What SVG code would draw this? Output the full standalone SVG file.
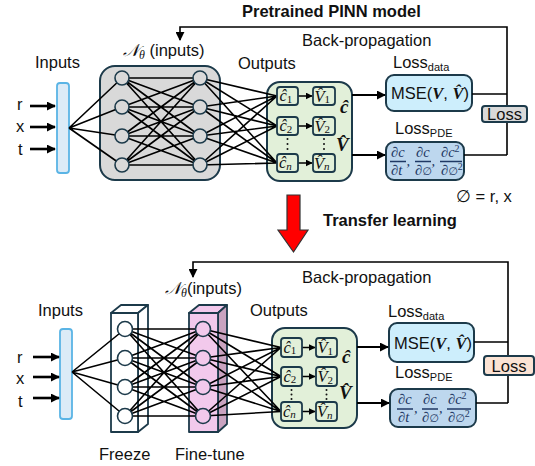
<svg xmlns="http://www.w3.org/2000/svg" width="535" height="466" viewBox="0 0 535 466">
<defs>
<style>
.t{font-family:"Liberation Sans",Arial,sans-serif;font-size:16.5px;fill:#111}
.b{font-weight:bold}
.m{font-family:"Liberation Serif","DejaVu Serif",serif;font-style:italic;fill:#111}
.fr{font-family:"Liberation Serif","DejaVu Serif",serif;font-style:italic;font-size:14.5px;fill:#1f3864}
.es{font-family:"DejaVu Sans",sans-serif;font-style:normal;font-size:11px}
.ln{stroke:#000;stroke-width:1.6;fill:none}
.dk{stroke:#1c3a4a;stroke-width:2}
.nd{stroke:#1c3a4a;stroke-width:1.6}
.ib{fill:#e2f0d9;stroke:#1c3a4a;stroke-width:1.8}
</style>
<marker id="ah" viewBox="0 0 10 10" refX="9" refY="5" markerWidth="9" markerHeight="9" markerUnits="userSpaceOnUse" orient="auto"><path d="M0,0 L10,5 L0,10 z" fill="#000"/></marker>
<marker id="ahs" viewBox="0 0 10 10" refX="9" refY="5" markerWidth="7" markerHeight="7" markerUnits="userSpaceOnUse" orient="auto"><path d="M0,0 L10,5 L0,10 z" fill="#000"/></marker>
</defs>
<rect width="535" height="466" fill="#fff"/>

<!-- ===== TOP ===== -->
<text class="t b" x="242" y="17">Pretrained PINN model</text>
<text class="t" x="302" y="46">Back-propagation</text>
<text class="t" x="35" y="68">Inputs</text>
<text class="t" x="123" y="56"><tspan class="m" font-size="17">𝒩</tspan><tspan class="m" font-size="12" dy="3">θ</tspan><tspan dy="-3"> (inputs)</tspan></text>
<text class="t" x="238" y="69">Outputs</text>
<text class="t" x="17" y="110">r</text>
<text class="t" x="16" y="132">x</text>
<text class="t" x="18" y="155">t</text>

<g id="top-input"><rect x="57" y="83" width="12" height="90" rx="3" fill="#dcebf7" stroke="#5ab4e5" stroke-width="1.8"/></g>
<g id="top-hidden"><rect x="100" y="66" width="120" height="114" rx="15" fill="#d9d9d9" class="dk"/></g>
<g id="top-outputs"><rect x="267" y="82" width="85" height="99" rx="13" fill="#e2f0d9" class="dk"/></g>
<g id="top-mse"><rect x="386" y="75" width="86" height="36" rx="8" fill="#cdeefc" class="dk"/>
<text class="t" x="391" y="99" font-size="16">MSE(<tspan class="m" font-weight="bold">V</tspan>, <tspan class="m" font-weight="bold">V̂</tspan>)</text></g>
<text class="t" x="393" y="68" font-size="15.5">Loss<tspan font-size="11" dy="3">data</tspan></text>
<g id="top-pde"><rect x="386" y="142" width="78" height="38" rx="8" fill="#bdd7ee" class="dk"/>
<text class="fr" x="391" y="157">∂c</text><text class="fr" x="416" y="157">∂c</text><text class="fr" x="441" y="157">∂c<tspan font-size="10" font-style="normal" dy="-5">2</tspan></text>
<path d="M390,161.5H406M415,161.5H431M440,161.5H462" stroke="#1f3864" stroke-width="1.3"/>
<text class="fr" x="391" y="175">∂t</text><text class="fr" x="415" y="175">∂<tspan class="es">∅</tspan></text><text class="fr" x="441" y="175">∂<tspan class="es">∅</tspan><tspan font-size="10" font-style="normal" dy="-5">2</tspan></text>
<text class="fr" x="406.5" y="166">,</text><text class="fr" x="431.5" y="166">,</text></g>
<text class="t" x="395" y="134" font-size="15.5">Loss<tspan font-size="11" dy="3">PDE</tspan></text>
<text class="t" x="456" y="202" font-size="15">∅ = r, x</text>

<!-- ===== TRANSFER ===== -->
<g id="transfer-arrow"><path d="M287,195H300V230H308L293.5,252L278,230H287Z" fill="#ff0000" stroke="#333" stroke-width="1.2"/></g>
<text class="t b" x="323" y="226">Transfer learning</text>

<!-- ===== BOTTOM ===== -->
<text class="t" x="302" y="283">Back-propagation</text>
<text class="t" x="38" y="316">Inputs</text>
<text class="t" x="165" y="294"><tspan class="m" font-size="17">𝒩</tspan><tspan class="m" font-size="12" dy="3">θ</tspan><tspan dy="-3">(inputs)</tspan></text>
<text class="t" x="250" y="316">Outputs</text>
<text class="t" x="17" y="363">r</text>
<text class="t" x="16" y="384">x</text>
<text class="t" x="18" y="407">t</text>
<text class="t" x="99" y="460">Freeze</text>
<text class="t" x="175" y="460">Fine-tune</text>

<g id="bot-input"><rect x="60" y="329" width="12" height="90" rx="3" fill="#dcebf7" stroke="#5ab4e5" stroke-width="1.8"/></g>
<g id="bot-freeze" stroke="#1c3a4a" stroke-width="1.8" stroke-linejoin="round">
<path d="M111,313L121,305H148L138,313Z" fill="#fff"/>
<path d="M138,313L148,305V424L138,432Z" fill="#fff"/>
<rect x="111" y="313" width="27" height="119" fill="#fff"/></g>
<g id="bot-finetune" stroke="#1c3a4a" stroke-width="1.8" stroke-linejoin="round">
<path d="M189,313L199,305H227L218,313Z" fill="#f2c9ec"/>
<path d="M218,313L227,305V424L218,432Z" fill="#c9a3c0"/>
<rect x="189" y="313" width="29" height="119" fill="#f2c9ec"/></g>
<g id="bot-outputs"><rect x="272" y="328" width="85" height="100" rx="13" fill="#e2f0d9" class="dk"/></g>
<g id="bot-mse"><rect x="389" y="323" width="85" height="39" rx="8" fill="#cdeefc" class="dk"/>
<text class="t" x="394" y="349" font-size="16">MSE(<tspan class="m" font-weight="bold">V</tspan>, <tspan class="m" font-weight="bold">V̂</tspan>)</text></g>
<text class="t" x="388" y="317" font-size="15.5">Loss<tspan font-size="11" dy="3">data</tspan></text>
<g id="bot-pde"><rect x="390" y="389" width="86" height="38" rx="8" fill="#bdd7ee" class="dk"/>
<text class="fr" x="398" y="404">∂c</text><text class="fr" x="423" y="404">∂c</text><text class="fr" x="448" y="404">∂c<tspan font-size="10" font-style="normal" dy="-5">2</tspan></text>
<path d="M397,409H413M422,409H438M447,409H471" stroke="#1f3864" stroke-width="1.3"/>
<text class="fr" x="398" y="422">∂t</text><text class="fr" x="422" y="422">∂<tspan class="es">∅</tspan></text><text class="fr" x="448" y="422">∂<tspan class="es">∅</tspan><tspan font-size="10" font-style="normal" dy="-5">2</tspan></text>
<text class="fr" x="414" y="413">,</text><text class="fr" x="439" y="413">,</text></g>
<text class="t" x="395" y="378" font-size="15.5">Loss<tspan font-size="11" dy="3">PDE</tspan></text>

<!-- ===== CONNECTORS ===== -->
<g id="connectors" class="ln">
<!-- top backprop -->
<path d="M472,94H507M464,155H507"/>
<path d="M507,155V27H180V40" marker-end="url(#ah)"/>
<path d="M30,106H55" stroke-width="2.6" marker-end="url(#ah)"/>
<path d="M30,127H55" stroke-width="2.6" marker-end="url(#ah)"/>
<path d="M30,149H55" stroke-width="2.6" marker-end="url(#ah)"/>
<path d="M352,95H385" stroke-width="2" marker-end="url(#ah)"/>
<path d="M352,155H385" stroke-width="2" marker-end="url(#ah)"/>
<!-- top network -->
<path d="M69,128L122,78M69,128L122,107M69,128L122,136M69,128L122,165"/>
<path d="M122,78L200,78M122,78L200,107M122,78L200,136M122,78L200,165M122,107L200,78M122,107L200,107M122,107L200,136M122,107L200,165M122,136L200,78M122,136L200,107M122,136L200,136M122,136L200,165M122,165L200,78M122,165L200,107M122,165L200,136M122,165L200,165"/>
<path d="M200,78L277,96M200,78L277,126M200,78L277,163M200,107L277,96M200,107L277,126M200,107L277,163M200,136L277,96M200,136L277,126M200,136L277,163M200,165L277,96M200,165L277,126M200,165L277,163"/>
<path d="M298,96H312" stroke-width="1.5" marker-end="url(#ahs)"/>
<path d="M298,126H312" stroke-width="1.5" marker-end="url(#ahs)"/>
<path d="M298,163H312" stroke-width="1.5" marker-end="url(#ahs)"/>
<!-- bottom backprop -->
<path d="M474,342H508M476,403H508"/>
<path d="M508,403V262H193V277" marker-end="url(#ah)"/>
<path d="M33,357H59" stroke-width="2.6" marker-end="url(#ah)"/>
<path d="M33,377H59" stroke-width="2.6" marker-end="url(#ah)"/>
<path d="M33,398H59" stroke-width="2.6" marker-end="url(#ah)"/>
<path d="M357,347H388" stroke-width="2" marker-end="url(#ah)"/>
<path d="M357,403H389" stroke-width="2" marker-end="url(#ah)"/>
<!-- bottom network -->
<path d="M72,372L125,329M72,372L125,358M72,372L125,387M72,372L125,416"/>
<path d="M125,329L203,329M125,329L203,358M125,329L203,387M125,329L203,416M125,358L203,329M125,358L203,358M125,358L203,387M125,358L203,416M125,387L203,329M125,387L203,358M125,387L203,387M125,387L203,416M125,416L203,329M125,416L203,358M125,416L203,387M125,416L203,416"/>
<path d="M203,329L281,347.5M203,329L281,376.5M203,329L281,411.5M203,358L281,347.5M203,358L281,376.5M203,358L281,411.5M203,387L281,347.5M203,387L281,376.5M203,387L281,411.5M203,416L281,347.5M203,416L281,376.5M203,416L281,411.5"/>
<path d="M302,347.5H315" stroke-width="1.5" marker-end="url(#ahs)"/>
<path d="M302,376.5H315" stroke-width="1.5" marker-end="url(#ahs)"/>
<path d="M302,411.5H315" stroke-width="1.5" marker-end="url(#ahs)"/>
</g>

<!-- loss boxes (over the vertical line) -->
<g id="top-loss"><rect x="482" y="106" width="45" height="16" rx="3" fill="#d9d9d9" class="dk"/>
<text class="t" x="504.5" y="120" font-size="17" text-anchor="middle">Loss</text></g>
<g id="bot-loss"><rect x="484" y="356" width="50" height="19" rx="3" fill="#fbe3d4" class="dk"/>
<text class="t" x="509" y="372" font-size="17" text-anchor="middle">Loss</text></g>

<!-- neurons -->
<g id="top-neurons" fill="#d9d9d9" class="nd">
<circle cx="122" cy="78" r="7"/><circle cx="122" cy="107" r="7"/><circle cx="122" cy="136" r="7"/><circle cx="122" cy="165" r="7"/>
<circle cx="200" cy="78" r="7"/><circle cx="200" cy="107" r="7"/><circle cx="200" cy="136" r="7"/><circle cx="200" cy="165" r="7"/>
</g>
<g id="freeze-neurons" fill="#fff" class="nd">
<circle cx="125" cy="329" r="7.5"/><circle cx="125" cy="358" r="7.5"/><circle cx="125" cy="387" r="7.5"/><circle cx="125" cy="416" r="7.5"/>
</g>
<g id="finetune-neurons" fill="#f2c9ec" class="nd">
<circle cx="203" cy="329" r="7.5"/><circle cx="203" cy="358" r="7.5"/><circle cx="203" cy="387" r="7.5"/><circle cx="203" cy="416" r="7.5"/>
</g>

<!-- output inner boxes top -->
<g id="top-c1"><rect class="ib" x="277" y="87" width="21" height="18" rx="3"/><text class="m" x="279.5" y="101" font-size="16.5">ĉ<tspan font-size="11" font-style="normal" dy="1.5">1</tspan></text></g>
<g id="top-c2"><rect class="ib" x="277" y="117" width="21" height="18" rx="3"/><text class="m" x="279.5" y="131" font-size="16.5">ĉ<tspan font-size="11" font-style="normal" dy="1.5">2</tspan></text></g>
<g id="top-cn"><rect class="ib" x="277" y="154" width="21" height="18" rx="3"/><text class="m" x="279" y="168" font-size="16.5">ĉ<tspan font-size="11" dy="1.5">n</tspan></text></g>
<g id="top-v1"><rect class="ib" x="313" y="87" width="22" height="18" rx="3"/><text class="m" x="314.5" y="101.5" font-size="16.5">V̂<tspan font-size="11" font-style="normal" dy="1.5">1</tspan></text></g>
<g id="top-v2"><rect class="ib" x="313" y="117" width="22" height="18" rx="3"/><text class="m" x="314.5" y="131.5" font-size="16.5">V̂<tspan font-size="11" font-style="normal" dy="1.5">2</tspan></text></g>
<g id="top-vn"><rect class="ib" x="313" y="154" width="22" height="18" rx="3"/><text class="m" x="314" y="168.5" font-size="16.5">V̂<tspan font-size="11" dy="1.5">n</tspan></text></g>
<g fill="#111"><circle cx="287.5" cy="139" r="1"/><circle cx="287.5" cy="144" r="1"/><circle cx="287.5" cy="149" r="1"/><circle cx="324" cy="139" r="1"/><circle cx="324" cy="144" r="1"/><circle cx="324" cy="149" r="1"/></g>
<text class="m" x="340" y="113" font-size="19" font-weight="bold">ĉ</text>
<text class="m" x="336" y="151" font-size="19" font-weight="bold">V̂</text>

<!-- output inner boxes bottom -->
<g id="bot-c1"><rect class="ib" x="281" y="338" width="21" height="19" rx="3"/><text class="m" x="283.5" y="352.5" font-size="16.5">ĉ<tspan font-size="11" font-style="normal" dy="1.5">1</tspan></text></g>
<g id="bot-c2"><rect class="ib" x="281" y="367" width="21" height="19" rx="3"/><text class="m" x="283.5" y="381.5" font-size="16.5">ĉ<tspan font-size="11" font-style="normal" dy="1.5">2</tspan></text></g>
<g id="bot-cn"><rect class="ib" x="281" y="402" width="21" height="19" rx="3"/><text class="m" x="283" y="416.5" font-size="16.5">ĉ<tspan font-size="11" dy="1.5">n</tspan></text></g>
<g id="bot-v1"><rect class="ib" x="316" y="338" width="21" height="19" rx="3"/><text class="m" x="317.5" y="353" font-size="16.5">V̂<tspan font-size="11" font-style="normal" dy="1.5">1</tspan></text></g>
<g id="bot-v2"><rect class="ib" x="316" y="367" width="21" height="19" rx="3"/><text class="m" x="317.5" y="382" font-size="16.5">V̂<tspan font-size="11" font-style="normal" dy="1.5">2</tspan></text></g>
<g id="bot-vn"><rect class="ib" x="316" y="402" width="21" height="19" rx="3"/><text class="m" x="317" y="417" font-size="16.5">V̂<tspan font-size="11" dy="1.5">n</tspan></text></g>
<g fill="#111"><circle cx="291.5" cy="390" r="1"/><circle cx="291.5" cy="394.5" r="1"/><circle cx="291.5" cy="399" r="1"/><circle cx="326.5" cy="390" r="1"/><circle cx="326.5" cy="394.5" r="1"/><circle cx="326.5" cy="399" r="1"/></g>
<text class="m" x="342" y="363" font-size="19" font-weight="bold">ĉ</text>
<text class="m" x="339" y="399" font-size="19" font-weight="bold">V̂</text>
</svg>
